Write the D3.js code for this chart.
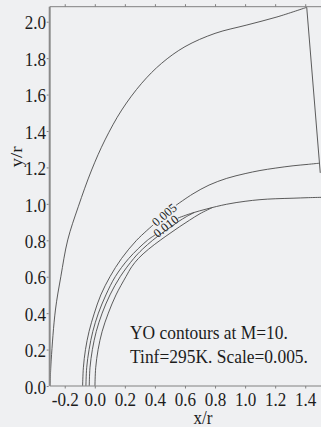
<!DOCTYPE html>
<html>
<head>
<meta charset="utf-8">
<script src="https://cdn.jsdelivr.net/npm/d3@7"></script>
<style>
  html, body { margin: 0; padding: 0; background: #eff0f2; }
  svg { display: block; }
</style>
</head>
<body>
<svg id="chart" width="321" height="427"></svg>
<script>
// Axis ticks
const xTicks = [-0.2, 0.0, 0.2, 0.4, 0.6, 0.8, 1.0, 1.2, 1.4];
const yTicks = [0.0, 0.2, 0.4, 0.6, 0.8, 1.0, 1.2, 1.4, 1.6, 1.8, 2.0];

// Outer grid boundary (shock-fitted edge) and outflow edge
const boundaryOuter = [
  [-0.298, 0.000], [-0.290, 0.143], [-0.262, 0.417], [-0.226, 0.600],
  [-0.180, 0.802], [-0.110, 0.984], [-0.021, 1.186], [0.068, 1.351],
  [0.179, 1.515], [0.312, 1.662], [0.445, 1.772], [0.600, 1.863],
  [0.800, 1.936], [1.012, 1.982], [1.212, 2.026], [1.410, 2.079]
];
const boundaryRight = [[1.410, 2.079], [1.500, 1.170]];

// YO = 0.005 contour (split around its label)
const c005a = [
  [-0.081, 0.0], [-0.076, 0.1], [-0.062, 0.2], [-0.038, 0.3], [-0.003, 0.4],
  [0.040, 0.5], [0.101, 0.6], [0.178, 0.7], [0.278, 0.8], [0.388, 0.884]
];
const c005b = [
  [0.540, 0.992], [0.653, 1.055], [0.760, 1.103], [0.878, 1.140], [1.000, 1.166],
  [1.099, 1.183], [1.200, 1.196], [1.319, 1.209], [1.420, 1.217], [1.492, 1.223]
];
// YO = 0.010 contour (split around its label)
const c010a = [
  [-0.059, 0.0], [-0.054, 0.1], [-0.038, 0.2], [-0.013, 0.3], [0.024, 0.4],
  [0.074, 0.5], [0.136, 0.6], [0.226, 0.7], [0.350, 0.8], [0.401, 0.829]
];
const c010b = [
  [0.553, 0.922], [0.650, 0.950], [0.745, 0.972], [0.878, 0.998], [1.000, 1.014],
  [1.099, 1.023], [1.200, 1.028], [1.319, 1.031], [1.420, 1.034], [1.520, 1.036]
];
// Inner contours folding back into the 0.010 line near the shoulder
const cInner1 = [
  [-0.037, 0.0], [-0.032, 0.1], [-0.016, 0.2], [0.010, 0.3], [0.049, 0.4],
  [0.101, 0.5], [0.169, 0.6], [0.259, 0.7], [0.316, 0.75], [0.385, 0.8],
  [0.445, 0.838], [0.500, 0.870], [0.555, 0.902], [0.610, 0.930], [0.660, 0.952]
];
const cInner2 = [
  [0.001, 0.0], [0.006, 0.1], [0.022, 0.2], [0.049, 0.3], [0.090, 0.4],
  [0.141, 0.5], [0.207, 0.6], [0.246, 0.655], [0.290, 0.7], [0.356, 0.75],
  [0.435, 0.8], [0.500, 0.838], [0.565, 0.875], [0.630, 0.910], [0.700, 0.946],
  [0.780, 0.979]
];

const contourLabels = [
  { text: "0.005", x: 0.464, y: 0.939, angle: -40 },
  { text: "0.010", x: 0.474, y: 0.876, angle: -38 }
];

const noteLines = ["YO contours at M=10.", "Tinf=295K. Scale=0.005."];
const noteWidths = [158, 178];

const fontFamily = '"Liberation Serif"';
const fontSize = 19;
const squeeze = 0.9;
const ink = "#1c1c1c";

const svg = d3.select("#chart");
const plotLeft = 49.7, plotTop = 6.7, plotRight = 320.25, plotBottom = 386;
const x = d3.scaleLinear().domain([-0.3, 1.5]).range([plotLeft, plotRight]);
const y = d3.scaleLinear().domain([0, 2.0824]).range([plotBottom, plotTop]);

svg.append("rect").attr("width", 321).attr("height", 427).attr("fill", "#eff0f2");

svg.append("defs").append("clipPath").attr("id", "plotClip")
  .append("rect").attr("x", plotLeft).attr("y", plotTop)
  .attr("width", 321 - plotLeft).attr("height", plotBottom - plotTop);

const plot = svg.append("g").attr("clip-path", "url(#plotClip)");
const line = d3.line().x(d => x(d[0])).y(d => y(d[1])).curve(d3.curveCatmullRom.alpha(0.5));
const straight = d3.line().x(d => x(d[0])).y(d => y(d[1]));

[boundaryOuter, c005a, c005b, c010a, c010b, cInner1, cInner2].forEach(pts => {
  plot.append("path").attr("d", line(pts))
    .attr("fill", "none").attr("stroke", "#4a4a4a").attr("stroke-width", 0.9);
});
plot.append("path").attr("d", straight(boundaryRight))
  .attr("fill", "none").attr("stroke", "#4a4a4a").attr("stroke-width", 0.9);

// Frame lines
svg.append("line").attr("x1", plotLeft).attr("x2", 321).attr("y1", plotTop).attr("y2", plotTop)
  .attr("stroke", "#808080").attr("stroke-width", 1);
svg.append("line").attr("x1", plotLeft).attr("x2", 321).attr("y1", plotBottom).attr("y2", plotBottom)
  .attr("stroke", "#808080").attr("stroke-width", 1);
svg.append("line").attr("x1", plotLeft).attr("x2", plotLeft).attr("y1", plotTop).attr("y2", plotBottom)
  .attr("stroke", "#8a8a8a").attr("stroke-width", 2);

const fmt = d => d.toFixed(1);

// Bottom axis
const gx = svg.append("g").attr("transform", `translate(0,${plotBottom})`)
  .call(d3.axisBottom(x).tickValues(xTicks).tickFormat(fmt).tickSize(2.5).tickPadding(4));
gx.attr("font-family", fontFamily);
gx.select(".domain").remove();
gx.selectAll(".tick line").attr("stroke", "#808080");
gx.selectAll(".tick text")
  .attr("font-family", fontFamily).attr("font-size", fontSize).attr("fill", ink)
  .attr("transform", `scale(${squeeze},1)`);

// Top ticks
const gt = svg.append("g").attr("transform", `translate(0,${plotTop})`)
  .call(d3.axisTop(x).tickValues(xTicks).tickFormat("").tickSize(2.5));
gt.select(".domain").remove();
gt.selectAll(".tick line").attr("stroke", "#808080");

// Left axis
const gy = svg.append("g").attr("transform", `translate(${plotLeft - 1},0)`)
  .call(d3.axisLeft(y).tickValues(yTicks).tickFormat(fmt).tickSize(2).tickPadding(1));
gy.attr("font-family", fontFamily);
gy.select(".domain").remove();
gy.selectAll(".tick line").attr("stroke", "#808080");
gy.selectAll(".tick text")
  .attr("font-family", fontFamily).attr("font-size", fontSize).attr("fill", ink)
  .attr("dy", "0.38em")
  .attr("transform", `scale(${squeeze},1)`);

// Axis titles
svg.append("text").attr("transform", `translate(203,424) scale(${squeeze},1)`)
  .attr("font-family", fontFamily).attr("fill", ink)
  .attr("text-anchor", "middle").attr("font-size", fontSize).text("x/r");
svg.append("text").attr("transform", `translate(22,157) rotate(-90) scale(1,${squeeze})`)
  .attr("font-family", fontFamily).attr("fill", ink)
  .attr("text-anchor", "middle").attr("font-size", fontSize).text("y/r");

// Contour labels
contourLabels.forEach(l => {
  svg.append("text")
    .attr("transform", `translate(${x(l.x)},${y(l.y)}) rotate(${l.angle})`)
    .attr("font-family", fontFamily).attr("fill", ink)
    .attr("text-anchor", "middle").attr("dominant-baseline", "central")
    .attr("font-size", 12.5).text(l.text);
});

// Annotation, narrowed horizontally to its printed width
noteLines.forEach((t, i) => {
  const txt = svg.append("text")
    .attr("font-family", fontFamily).attr("fill", ink)
    .attr("font-size", fontSize).text(t);
  const natural = txt.node().getComputedTextLength() || noteWidths[i];
  txt.attr("transform", `translate(130,${339 + i * 24}) scale(${noteWidths[i] / natural},1)`);
});
</script>
</body>
</html>
